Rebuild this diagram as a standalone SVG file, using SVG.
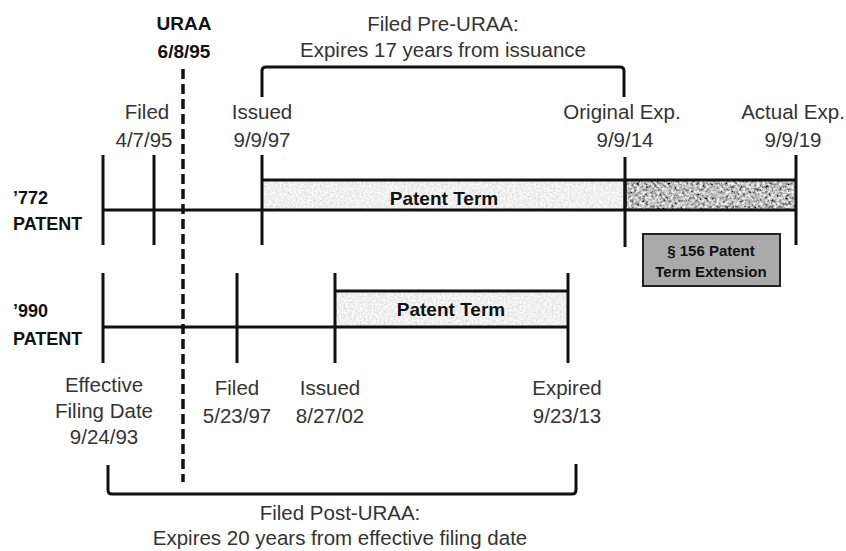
<svg xmlns="http://www.w3.org/2000/svg" width="846" height="551" viewBox="0 0 846 551">
<style>
.t{font-family:"Liberation Sans",Arial,sans-serif;font-size:20.5px;fill:#333;text-anchor:middle}
.b{font-family:"Liberation Sans",Arial,sans-serif;font-weight:bold;fill:#111}
.ln{stroke:#111;stroke-width:3;fill:none}
</style>
<defs>
<filter id="lightTex" x="0" y="0" width="1" height="1">
<feTurbulence type="fractalNoise" baseFrequency="0.5" numOctaves="2" seed="3" result="n"/>
<feColorMatrix in="n" type="matrix" values="0.5 0 0 0 0.62  0.5 0 0 0 0.62  0.5 0 0 0 0.62  0 0 0 0 1" result="c"/>
<feComposite in="c" in2="SourceGraphic" operator="in"/>
</filter>
<filter id="darkTex" x="0" y="0" width="1" height="1">
<feTurbulence type="fractalNoise" baseFrequency="0.35" numOctaves="3" seed="7" result="n"/>
<feColorMatrix in="n" type="matrix" values="1.7 0 0 0 -0.33  1.7 0 0 0 -0.33  1.7 0 0 0 -0.33  0 0 0 0 1" result="c"/>
<feComposite in="c" in2="SourceGraphic" operator="in"/>
</filter>
</defs>
<rect width="846" height="551" fill="#fff"/>

<g id="uraa">
<text class="b" x="184" y="30" font-size="19" text-anchor="middle">URAA</text>
<text class="b" x="184" y="58" font-size="19" text-anchor="middle">6/8/95</text>
<line x1="183" y1="69" x2="183" y2="482" stroke="#111" stroke-width="3.5" stroke-dasharray="10,5"/>
</g>

<g id="pre-uraa-bracket">
<text class="t" x="443" y="31">Filed Pre-URAA:</text>
<text class="t" x="443" y="57">Expires 17 years from issuance</text>
<path class="ln" d="M262,97 V71 Q262,67 266,67 H620 Q624,67 624,71 V97"/>
</g>

<g id="patent-772">
<text class="b" x="13" y="204" font-size="18">’772</text>
<text class="b" x="13" y="230" font-size="18">PATENT</text>
<rect x="262" y="180" width="363" height="30" fill="#ddd" filter="url(#lightTex)"/>
<rect x="625" y="180" width="171" height="30" fill="#777" filter="url(#darkTex)"/>
<path class="ln" d="M262,180 H796 M625,180 V210"/>
<line class="ln" x1="103" y1="210" x2="796" y2="210"/>
<line class="ln" x1="103" y1="155" x2="103" y2="245"/>
<line class="ln" x1="154" y1="155" x2="154" y2="245"/>
<line class="ln" x1="262" y1="155" x2="262" y2="245"/>
<line class="ln" x1="625" y1="157" x2="625" y2="247"/>
<line class="ln" x1="796" y1="155" x2="796" y2="245"/>
<text class="b" x="444" y="205" font-size="19" text-anchor="middle">Patent Term</text>
<text class="t" x="147" y="119">Filed</text>
<text class="t" x="144" y="147">4/7/95</text>
<text class="t" x="262" y="119">Issued</text>
<text class="t" x="262" y="147">9/9/97</text>
<text class="t" x="622" y="119">Original Exp.</text>
<text class="t" x="625" y="147">9/9/14</text>
<text class="t" x="793" y="119">Actual Exp.</text>
<text class="t" x="793" y="147">9/9/19</text>
</g>

<g id="pte-box">
<rect x="643" y="234" width="137" height="52" fill="#aaa" stroke="#222" stroke-width="2"/>
<text class="b" x="711" y="256" font-size="15" text-anchor="middle">§ 156 Patent</text>
<text class="b" x="711" y="277" font-size="15" text-anchor="middle">Term Extension</text>
</g>

<g id="patent-990">
<text class="b" x="13" y="317" font-size="18">’990</text>
<text class="b" x="13" y="345" font-size="18">PATENT</text>
<rect x="335" y="291" width="233" height="36" fill="#ddd" filter="url(#lightTex)"/>
<line class="ln" x1="335" y1="291" x2="568" y2="291"/>
<line class="ln" x1="103" y1="327" x2="568" y2="327"/>
<line class="ln" x1="103" y1="273" x2="103" y2="363"/>
<line class="ln" x1="237" y1="273" x2="237" y2="363"/>
<line class="ln" x1="335" y1="273" x2="335" y2="363"/>
<line class="ln" x1="568" y1="273" x2="568" y2="363"/>
<text class="b" x="451" y="316" font-size="19" text-anchor="middle">Patent Term</text>
<text class="t" x="104" y="392">Effective</text>
<text class="t" x="104" y="418">Filing Date</text>
<text class="t" x="104" y="444">9/24/93</text>
<text class="t" x="237" y="395">Filed</text>
<text class="t" x="237" y="423">5/23/97</text>
<text class="t" x="330" y="395">Issued</text>
<text class="t" x="330" y="423">8/27/02</text>
<text class="t" x="567" y="395">Expired</text>
<text class="t" x="567" y="423">9/23/13</text>
</g>

<g id="post-uraa-bracket">
<path class="ln" d="M108,465 V490 Q108,494 112,494 H572 Q576,494 576,490 V464"/>
<text class="t" x="340" y="520">Filed Post-URAA:</text>
<text class="t" x="340" y="545">Expires 20 years from effective filing date</text>
</g>
</svg>
